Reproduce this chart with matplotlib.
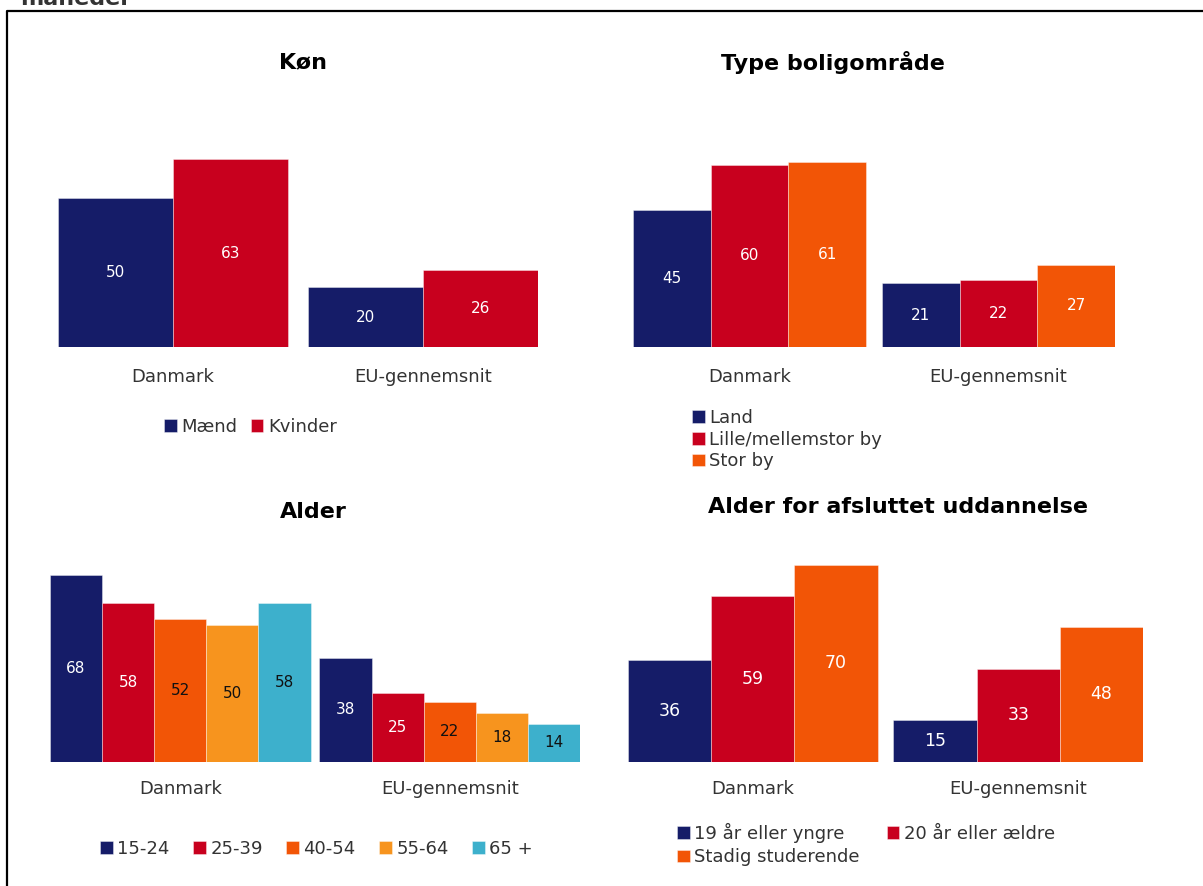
import numpy as np
import matplotlib.pyplot as plt
from matplotlib.lines import Line2D

# data
groups = ['Danmark', 'EU-gennemsnit']

kon_names = ['Mænd', 'Kvinder']
kon_maend = [50, 20]
kon_kvinder = [63, 26]

bolig_names = ['Land', 'Lille/mellemstor by', 'Stor by']
bolig_land = [45, 21]
bolig_lille = [60, 22]
bolig_stor = [61, 27]

alder_names = ['15-24', '25-39', '40-54', '55-64', '65 +']
alder_15_24 = [68, 38]
alder_25_39 = [58, 25]
alder_40_54 = [52, 22]
alder_55_64 = [50, 18]
alder_65 = [58, 14]

udd_names = ['19 år eller yngre', '20 år eller ældre', 'Stadig studerende']
udd_19 = [36, 15]
udd_20 = [59, 33]
udd_stadig = [70, 48]

NAVY = '#151c68'
RED = '#c8001e'
ORANGE = '#f25506'
LORANGE = '#f7941e'
CYAN = '#3db0cc'
TXT = '#333333'

W, H = 1203, 886
fig = plt.figure(figsize=(W / 100, H / 100), dpi=100)
plt.rcParams['font.family'] = ['DejaVu Sans']


def px_axes(left, top, right, bottom):
    return fig.add_axes([left / W, 1 - bottom / H, (right - left) / W, (bottom - top) / H])


def panel(left, right, baseline, scale, gap, series, colors, label_colors, vfs, pad):
    n = len(series)
    total = 2 * n + gap
    ymax = 75
    top = baseline - ymax * scale
    ax = px_axes(left, top, right, baseline)
    bars = []
    for i, (vals, c, lc) in enumerate(zip(series, colors, label_colors)):
        x = np.array([0, n + gap]) + i
        b = ax.bar(x, vals, width=1, align='edge', color=c,
                   edgecolor=(1, 1, 1, 0.45), linewidth=0.6)
        ax.bar_label(b, labels=[str(v) for v in vals], label_type='center',
                     color=lc, fontsize=vfs)
        bars.append(b)
    ax.set_xlim(0, total)
    ax.set_ylim(0, ymax)
    ax.set_xticks([n / 2, n + gap + n / 2], groups)
    ax.tick_params(axis='x', length=0, pad=pad, labelsize=13, labelcolor=TXT)
    ax.set_yticks([])
    for s in ax.spines.values():
        s.set_visible(False)
    return ax, bars


def title(x, y, s):
    fig.text(x / W, 1 - y / H, s, ha='center', va='center', fontsize=16,
             fontweight='bold', color='black')


def legend(handles, labels, x, y, ncol, colsp, rowsp=0.3):
    fig.legend(handles, labels, loc='upper left', bbox_to_anchor=(x / W, 1 - y / H),
               ncol=ncol, frameon=False, borderpad=0, borderaxespad=0,
               handlelength=0.7, handleheight=0.7, handletextpad=0.25,
               columnspacing=colsp, labelspacing=rowsp, fontsize=13,
               labelcolor=TXT)


# Køn
ax1, b1 = panel(58, 538, 347, 2.98, 0.18, [kon_maend, kon_kvinder],
                [NAVY, RED], ['white', 'white'], 11, 15)
title(303, 62, 'Køn')
legend(b1, kon_names, 164, 418, 2, 0.75)

# Type boligområde
ax2, b2 = panel(633, 1115, 347, 3.04, 0.206, [bolig_land, bolig_lille, bolig_stor],
                [NAVY, RED, ORANGE], ['white'] * 3, 11, 15)
title(833, 62, 'Type boligområde')
legend(b2, bolig_names, 692, 409, 1, 0.6, rowsp=0.2)

# Alder
ax3, b3 = panel(50, 580, 762, 2.75, 0.17,
                [alder_15_24, alder_25_39, alder_40_54, alder_55_64, alder_65],
                [NAVY, RED, ORANGE, LORANGE, CYAN],
                ['white', 'white', '#111111', '#111111', '#111111'], 11, 13)
title(313, 512, 'Alder')
legend(b3, alder_names, 100, 840, 5, 1.3)

# Alder for afsluttet uddannelse
ax4, b4 = panel(628, 1143, 762, 2.82, 0.19, [udd_19, udd_20, udd_stadig],
                [NAVY, RED, ORANGE], ['white'] * 3, 12.5, 13)
title(898, 507, 'Alder for afsluttet uddannelse')
legend([b4[0], b4[2], b4[1]], [udd_names[0], udd_names[2], udd_names[1]],
       677, 823, 2, 1.5, rowsp=0.3)

# frame and clipped heading
fig.add_artist(Line2D([7 / W, 7 / W, 1], [0, 1 - 11 / H, 1 - 11 / H],
                      color='black', linewidth=1.6))
fig.text(20 / W, 1 - 5 / H, 'måneder', ha='left', va='baseline', fontsize=16,
         fontweight='bold', color=TXT)

fig.savefig('out.png', dpi=100)
